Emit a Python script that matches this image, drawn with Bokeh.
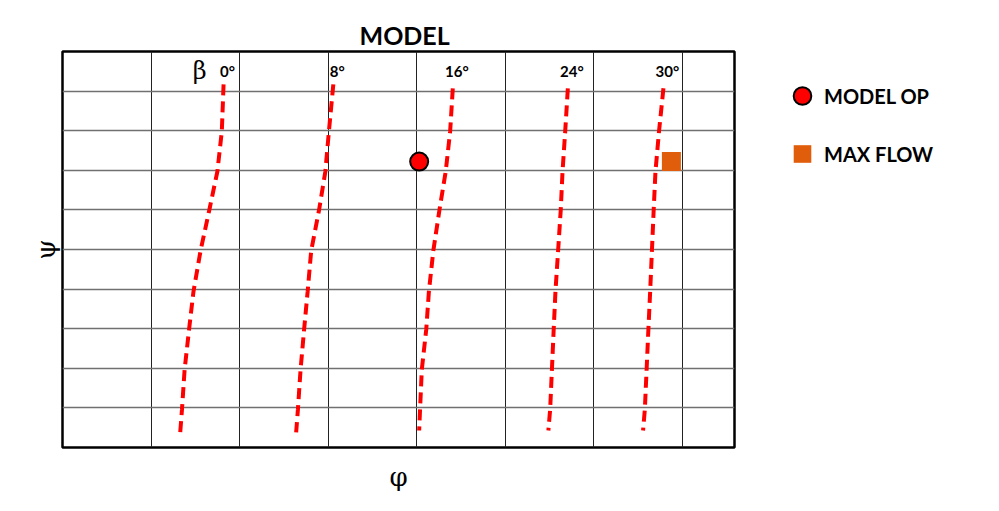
from bokeh.plotting import figure
from bokeh.layouts import row
from bokeh.models import Range1d, FixedTicker, Legend, LegendItem, ColumnDataSource, Label, Title
from bokeh.core.properties import value
from bokeh.embed import file_html
from bokeh.resources import INLINE

# ---- data ----
beta_labels = ["0°", "8°", "16°", "24°", "30°"]
phi_0 = [1.82, 1.80, 1.75, 1.66, 1.56, 1.48, 1.43, 1.38, 1.35, 1.33]
psi_0 = [9.17, 7.98, 6.97, 6.01, 4.97, 3.94, 2.98, 1.97, 0.96, 0.38]
phi_8 = [3.06, 3.01, 2.97, 2.90, 2.81, 2.77, 2.73, 2.69, 2.66, 2.64]
psi_8 = [9.17, 7.98, 6.97, 6.01, 4.97, 3.94, 2.98, 1.97, 0.96, 0.38]
phi_16 = [4.41, 4.38, 4.33, 4.26, 4.19, 4.14, 4.11, 4.06, 4.04, 4.03]
psi_16 = [9.07, 7.98, 6.97, 6.01, 4.97, 3.94, 2.98, 1.97, 0.96, 0.43]
phi_24 = [5.71, 5.68, 5.65, 5.63, 5.60, 5.57, 5.55, 5.53, 5.51, 5.49]
psi_24 = [9.07, 7.98, 6.97, 6.01, 4.97, 3.94, 2.98, 1.97, 0.96, 0.43]
phi_30 = [6.79, 6.74, 6.70, 6.68, 6.66, 6.64, 6.62, 6.60, 6.58, 6.56]
psi_30 = [9.07, 7.98, 6.97, 6.01, 4.97, 3.94, 2.98, 1.97, 0.96, 0.43]
model_op_phi = [4.03]
model_op_psi = [7.22]
max_flow_phi = [6.88]
max_flow_psi = [7.22]
x_ticks = [1, 2, 3, 4, 5, 6, 7]
y_ticks = [1, 2, 3, 4, 5, 6, 7, 8, 9]
label_psi = 9.5

curves_phi = [phi_0, phi_8, phi_16, phi_24, phi_30]
curves_psi = [psi_0, psi_8, psi_16, psi_24, psi_30]

OP_STYLE = dict(marker="circle", size=18, fill_color="#FF0000", line_color="black", line_width=2)
MF_STYLE = dict(marker="square", size=19, fill_color="#E05D0B", line_color=None)

p = figure(width=736, height=511, output_backend="svg", toolbar_location=None,
           x_range=Range1d(0, 7.593), y_range=Range1d(0, 10),
           min_border_left=62, min_border_right=2, min_border_top=51, min_border_bottom=64)
p.background_fill_color = "white"
p.border_fill_color = "white"
p.outline_line_color = "black"
p.outline_line_width = 2.5

p.title.text = "MODEL"
p.title.align = "left"
p.title.text_font = "Lato"
p.title.text_font_style = "bold"
p.title.text_font_size = "25px"
p.title.text_color = "black"
p.title.offset = 297
p.title.standoff = 4

p.xaxis.visible = False
p.yaxis.visible = False
p.xgrid.ticker = FixedTicker(ticks=x_ticks)
p.ygrid.ticker = FixedTicker(ticks=y_ticks)
p.xgrid.grid_line_color = "#222222"
p.xgrid.grid_line_width = 1
p.ygrid.grid_line_color = "#707070"
p.ygrid.grid_line_width = 1.5

p.add_layout(Title(text="φ", align="center", text_font="DejaVu Serif",
                   text_font_style="normal", text_font_size="26px",
                   text_color="black", standoff=24), "below")
p.add_layout(Title(text="ψ", align="center", text_font="DejaVu Serif",
                   text_font_style="normal", text_font_size="26px",
                   text_color="black", standoff=4), "left")

for xs, ys in zip(curves_phi, curves_psi):
    p.line(xs, ys, line_color="#FF0000", line_width=4, line_dash="11 6")

lab_src = ColumnDataSource(dict(x=[c[0] for c in curves_phi],
                                y=[label_psi] * len(beta_labels),
                                t=beta_labels))
p.text(x="x", y="y", text="t", source=lab_src, x_offset=4,
       text_font=value("Lato"), text_font_style="bold", text_font_size="15px",
       text_align="center", text_baseline="middle", text_color="black")

p.add_layout(Label(x=phi_0[0], y=label_psi, text="β", x_offset=-24,
                   text_font="DejaVu Serif", text_font_size="24px",
                   text_align="center", text_baseline="middle", text_color="black"))

p.scatter(model_op_phi, model_op_psi, **OP_STYLE)
p.scatter(max_flow_phi, max_flow_psi, **MF_STYLE)

# ---- legend panel (to the right of the chart) ----
p2 = figure(width=263, height=511, output_backend="svg", toolbar_location=None,
            x_range=Range1d(0, 1), y_range=Range1d(0, 1), min_border=0)
p2.axis.visible = False
p2.grid.visible = False
p2.outline_line_color = None
p2.background_fill_color = "white"
p2.border_fill_color = "white"
op2 = p2.scatter(model_op_phi, model_op_psi, **OP_STYLE)
mf2 = p2.scatter(max_flow_phi, max_flow_psi, **MF_STYLE)

legend = Legend(items=[LegendItem(label="MODEL OP", renderers=[op2]),
                       LegendItem(label="MAX FLOW", renderers=[mf2])],
                location=(44, 270), glyph_width=44, glyph_height=47,
                spacing=11, padding=0, margin=0, label_standoff=0,
                border_line_color=None, background_fill_alpha=0,
                label_text_font="Lato", label_text_font_style="bold",
                label_text_font_size="20px", label_text_color="black")
p2.add_layout(legend)

open("out.html", "w").write(file_html(row(p, p2), INLINE))
